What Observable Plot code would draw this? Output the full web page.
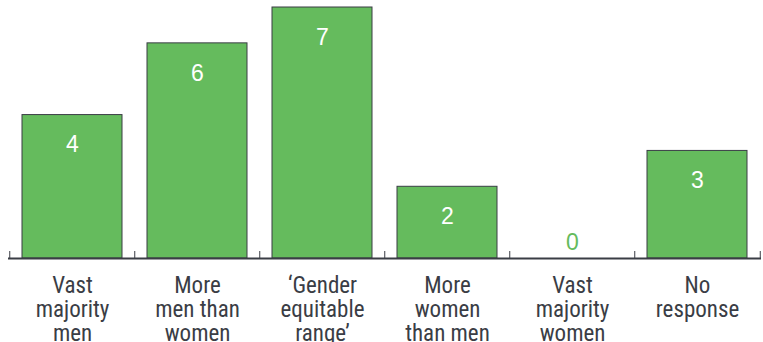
<!DOCTYPE html>
<html>
<head>
<meta charset="utf-8">
<script src="https://cdn.jsdelivr.net/npm/d3@7"></script>
<script src="https://cdn.jsdelivr.net/npm/@observablehq/plot@0.6"></script>
<style>
  html, body { margin: 0; padding: 0; background: #fff; }
  svg { display: block; }
</style>
</head>
<body>
<div id="chart"></div>
<script>
const categories = ["vmm", "mmw", "ger", "mwm", "vmw", "nr"];
const labels = [
  "Vast\nmajority\nmen",
  "More\nmen than\nwomen",
  "\u2018Gender\nequitable\nrange\u2019",
  "More\nwomen\nthan men",
  "Vast\nmajority\nwomen",
  "No\nresponse"
];
const values = [4, 6, 7, 2, 0, 3];

const data = categories.map((c, i) => ({cat: c, value: values[i], label: labels[i]}));

const W = 763, H = 342, mL = 8, mR = 2;
const step = (W - mL - mR) / categories.length;
const green = "#65bb5d";
const dark = "#3a3d45";
const narrow = "'Liberation Sans Narrow', 'Arial Narrow', 'Roboto Condensed', sans-serif";

const chart = Plot.plot({
  width: W,
  height: H,
  marginTop: 7,
  marginBottom: 84,
  marginLeft: mL,
  marginRight: mR,
  x: {domain: categories, paddingInner: 0.2, paddingOuter: 0.1, axis: null},
  y: {domain: [0, 7], axis: null},
  style: {background: "#fff", fontFamily: "'Liberation Sans', Arial, sans-serif"},
  marks: [
    Plot.barY(data, {x: "cat", y: "value", fill: green, stroke: dark, strokeWidth: 1}),
    Plot.ruleX(data, {x: "cat", y1: 0, y2: 0, dx: -step / 2, insetTop: -7, stroke: dark, strokeWidth: 1}),
    Plot.ruleX(data.slice(-1), {x: "cat", y1: 0, y2: 0, dx: step / 2, insetTop: -7, stroke: dark, strokeWidth: 1}),
    Plot.ruleY([0], {stroke: dark, strokeWidth: 2}),
    Plot.text(data.filter(d => d.value > 0), {x: "cat", y: "value", text: d => String(d.value), dy: 30, fill: "#fff", fontSize: 23}),
    Plot.text(data.filter(d => d.value === 0), {x: "cat", y: "value", text: d => String(d.value), dy: -16, fill: green, fontSize: 23}),
    Plot.text(data, {x: "cat", y: 0, text: "label", lineAnchor: "top", dy: 17, fontSize: 23, lineHeight: 24 / 23, fill: dark, fontFamily: narrow})
  ]
});
document.getElementById("chart").appendChild(chart);
</script>
</body>
</html>
